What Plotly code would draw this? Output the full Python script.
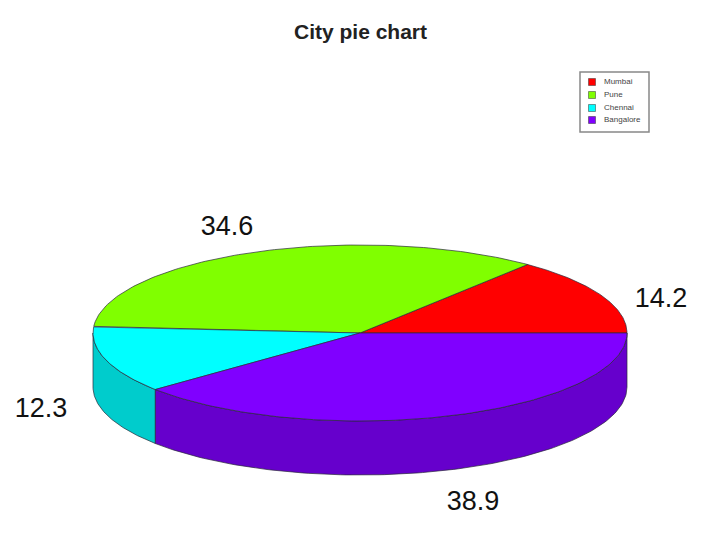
import numpy as np
import plotly.graph_objects as go

# Pie data
cities = ['Mumbai', 'Pune', 'Chennai', 'Bangalore']
shares = [14.2, 34.6, 12.3, 38.9]
top_colors = ['#FF0000', '#80FF00', '#00FFFF', '#8000FF']
side_colors = ['#CC0000', '#66CC00', '#00CCCC', '#6600CC']
title_text = 'City pie chart'

# Page is mapped 1:1 onto the axes, y pointing down
W, H = 720, 538
CX, CY = 360, 333
RX, RY = 267, 88
DEPTH = 54
EDGE = '#2a2a3a'

# where the percentage labels sit, one per city
label_x = [661, 227, 41, 473]
label_y = [300, 228, 410, 503]


def rim(a0, a1, n=120):
    t = np.radians(np.linspace(a0, a1, n))
    return CX + RX * np.cos(t), CY - RY * np.sin(t)


fig = go.Figure()

ends = np.cumsum(shares) / sum(shares) * 360
starts = np.concatenate([[0], ends[:-1]])

# 1. side wall, only the front half of the pie (180 to 360 deg) is visible
for a0, a1, col in zip(starts, ends, side_colors):
    lo, hi = max(a0, 180), min(a1, 360)
    if lo >= hi:
        continue
    x, y = rim(lo, hi)
    xs = np.concatenate([x, x[::-1], x[:1]])
    ys = np.concatenate([y, y[::-1] + DEPTH, y[:1]])
    fig.add_trace(go.Scatter(x=xs, y=ys, mode='lines', fill='toself', fillcolor=col,
                             line=dict(color=EDGE, width=0.7), hoverinfo='skip'))

# 2. top face wedges
for a0, a1, col in zip(starts, ends, top_colors):
    x, y = rim(a0, a1)
    xs = np.concatenate([[CX], x, [CX]])
    ys = np.concatenate([[CY], y, [CY]])
    fig.add_trace(go.Scatter(x=xs, y=ys, mode='lines', fill='toself', fillcolor=col,
                             line=dict(color=EDGE, width=0.7), hoverinfo='skip'))

# 3. percentage labels
fig.add_trace(go.Scatter(x=label_x, y=label_y, mode='text', text=[str(v) for v in shares],
                         textposition='middle center', hoverinfo='skip',
                         textfont=dict(family='Liberation Sans', size=27, color='#111111')))

# 4. legend drawn by hand, the native one can't get rows this tight
fig.add_shape(type='rect', x0=580, x1=649, y0=72, y1=132, layer='below',
              line=dict(color='#888888', width=1.5), fillcolor='white')
legend_y = [82, 95, 108, 120]
fig.add_trace(go.Scatter(x=[592] * 4, y=legend_y, mode='markers', hoverinfo='skip',
                         marker=dict(symbol='square', size=7, color=top_colors,
                                     line=dict(color='#333333', width=0.5))))
fig.add_trace(go.Scatter(x=[604] * 4, y=legend_y, mode='text', text=cities,
                         textposition='middle right', hoverinfo='skip',
                         textfont=dict(family='Liberation Sans', size=8, color='#444444')))

fig.update_layout(
    width=W, height=H,
    margin=dict(l=0, r=0, t=0, b=0),
    paper_bgcolor='white', plot_bgcolor='white',
    showlegend=False,
    xaxis=dict(range=[0, W], visible=False, fixedrange=True),
    yaxis=dict(range=[H, 0], visible=False, fixedrange=True),
    annotations=[dict(text='<b>%s</b>' % title_text, x=360, y=31, xref='x', yref='y',
                      showarrow=False, font=dict(family='Liberation Sans', size=21, color='#222222'))],
)

# default page has an 8px body margin, which would push everything off
fig.write_html('out.html', post_script="document.body.style.margin='0';document.body.style.overflow='hidden';",
               config=dict(displayModeBar=False))
